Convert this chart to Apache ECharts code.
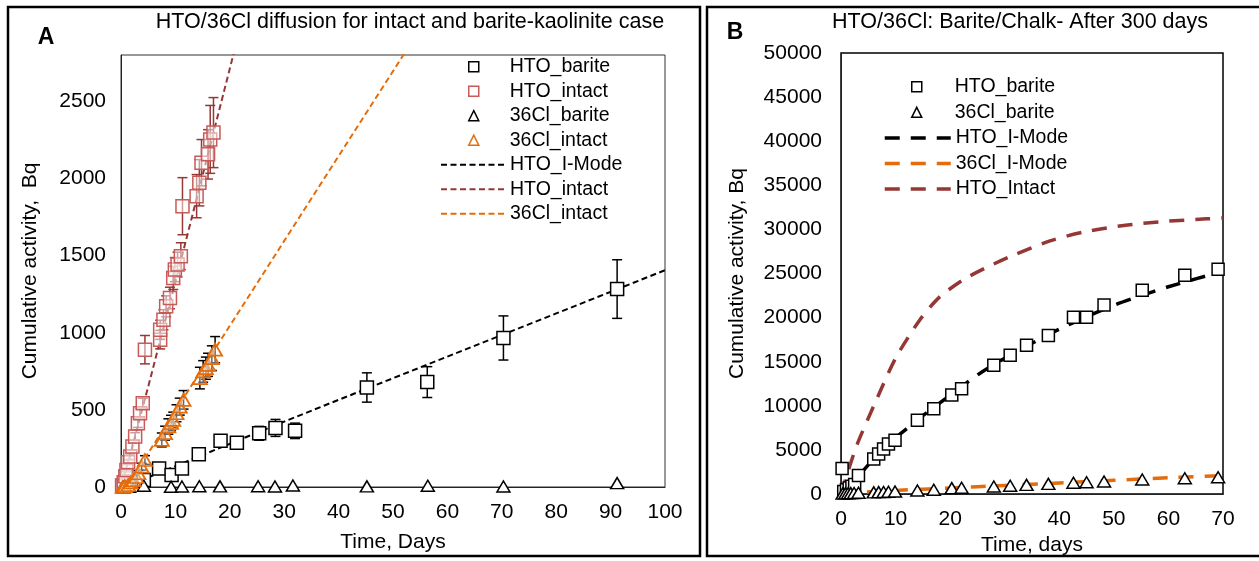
<!DOCTYPE html>
<html><head><meta charset="utf-8">
<script src="https://cdn.jsdelivr.net/npm/echarts@6/dist/echarts.min.js"></script>
<style>html,body{margin:0;padding:0;background:#fff}#c{width:1259px;height:561px}</style>
</head><body><div id="c"></div>
<script>
// ---------- Panel A data ----------
const aHtoBariteX = [0.5, 4.2, 7.0, 9.3, 11.2, 14.3, 18.3, 21.3, 25.4, 28.4, 32.0, 45.2, 56.3, 70.3, 91.2];
const aHtoBariteY = [5, 45, 120, 78, 120, 213, 300, 287, 348, 383, 364, 645, 680, 966, 1283];
const aHtoBariteErr = [3, 10, 15, 12, 15, 20, 25, 25, 45, 55, 50, 95, 100, 143, 190];

const aHtoIntactX = [0.2, 0.5, 0.8, 1.0, 1.3, 1.7, 2.1, 2.6, 3.1, 3.5, 4.0, 4.4, 7.2, 7.2, 7.8, 8.3, 9.0, 9.6, 9.9, 10.4, 11.0, 11.3, 13.9, 14.4, 14.8, 16.0, 16.4, 17.0];
const aHtoIntactY = [10, 30, 70, 110, 160, 197, 262, 327, 414, 478, 543, 890, 955, 1019, 1084, 1171, 1225, 1355, 1409, 1442, 1496, 1820, 1885, 1972, 2102, 2156, 2253, 2297];
const aHtoIntactErr = [5, 8, 10, 12, 15, 18, 22, 25, 28, 30, 32, 92, 60, 62, 65, 68, 70, 75, 78, 80, 87, 185, 140, 150, 150, 160, 220, 227];

const aClIntactX = [0.3, 0.7, 1.3, 1.8, 2.3, 2.8, 3.2, 3.8, 4.4, 7.5, 8.1, 8.7, 9.2, 9.6, 10.2, 10.8, 11.5, 14.5, 15.1, 15.6, 16.0, 16.7, 17.3];
const aClIntactY = [0, 5, 13, 30, 45, 65, 89, 132, 175, 305, 349, 392, 415, 435, 478, 521, 565, 706, 749, 770, 792, 835, 890];
const aClIntactErr = [3, 5, 8, 10, 12, 15, 18, 22, 28, 45, 45, 50, 50, 50, 55, 55, 60, 70, 70, 72, 75, 80, 85];

const aClBariteX = [0.5, 1.5, 4.2, 9.2, 11.2, 14.4, 18.2, 25.2, 28.3, 31.6, 45.2, 56.4, 70.3, 91.2];
const aClBariteY = [0, 2, 8, 2, 3, 5, 4, 5, 3, 10, 4, 8, 3, 25];

const aHtoModelX = [0, 2, 5, 10, 20, 30, 40, 50, 60, 70, 80, 90, 100];
const aHtoModelY = [0, 20, 62, 135, 280, 424, 565, 705, 845, 985, 1125, 1265, 1405];
const aHtoIntactLineX = [0, 2, 5, 10, 15, 21];
const aHtoIntactLineY = [0, 250, 650, 1330, 2020, 2850];
const aClIntactLineX = [0, 1, 5, 10, 20, 30, 40, 53];
const aClIntactLineY = [0, 10, 220, 495, 1045, 1595, 2145, 2860];

const aXTicks = {min: 0, max: 100, interval: 10};
const aYTicks = {min: 0, max: 2800, interval: 500};

// ---------- Panel B data ----------
const bHtoBariteX = [0.2, 0.5, 1.0, 1.5, 2.0, 2.5, 3.2, 6.0, 6.9, 7.8, 8.7, 9.9, 14.0, 17.0, 20.3, 22.1, 28.0, 31.0, 34.0, 38.0, 42.6, 45.0, 48.2, 55.2, 63.0, 69.1];
const bHtoBariteY = [2900, 300, 500, 700, 900, 1100, 2100, 3975, 4540, 5100, 5665, 6115, 8370, 9685, 11230, 11940, 14600, 15730, 16860, 17980, 20045, 20045, 21430, 23120, 24810, 25486];
const bClBariteX = [0.3, 0.8, 1.3, 1.8, 2.4, 3.2, 6.0, 6.9, 7.8, 8.7, 9.9, 14.0, 17.0, 20.3, 22.1, 28.0, 31.0, 34.0, 38.0, 42.6, 45.0, 48.2, 55.2, 63.0, 69.1];
const bClBariteY = [50, 80, 100, 110, 130, 150, 200, 220, 240, 260, 300, 415, 490, 675, 713, 865, 940, 1050, 1160, 1280, 1350, 1430, 1650, 1800, 1914];
const bHtoModelX = [0, 2, 4, 6, 8, 10, 12, 15, 20, 25, 30, 35, 40, 45, 50, 55, 60, 65, 70];
const bHtoModelY = [0, 1200, 2600, 4000, 5300, 6400, 7400, 8900, 11200, 13500, 15400, 17100, 18700, 20100, 21400, 22500, 23500, 24400, 25250];
const bClModelX = [0, 3, 6, 10, 15, 20, 25, 30, 40, 50, 60, 70];
const bClModelY = [0, 150, 290, 420, 560, 700, 840, 980, 1270, 1560, 1850, 2100];
const bHtoIntactX = [0, 1.5, 3, 6, 10, 14.5, 18, 22.4, 26.7, 31.3, 38.3, 44.4, 51.8, 59.1, 67, 70];
const bHtoIntactY = [0, 3000, 5700, 10000, 15400, 19800, 22300, 24300, 25700, 27000, 28700, 29700, 30450, 30900, 31200, 31300];

const bXTicks = {min: 0, max: 70, interval: 10};
const bYTicks = {min: 0, max: 50000, interval: 5000};

// ---------- helpers ----------
const F = '"Liberation Sans", Arial, sans-serif';
const pairs = (xs, ys) => xs.map((x, i) => [x, ys[i]]);
const errs = (xs, ys, es) => xs.map((x, i) => [x, ys[i] - es[i], ys[i] + es[i]]);
const plain = v => String(v);

function errSeries(name, data, color, gi) {
  return {
    type: 'custom', name, xAxisIndex: gi, yAxisIndex: gi, data, z: 1, silent: true, clip: true,
    encode: {x: 0, y: [1, 2]},
    renderItem(params, api) {
      const x = api.value(0), lo = api.value(1), hi = api.value(2);
      const p1 = api.coord([x, hi]), p2 = api.coord([x, lo]);
      const w = 5, st = {stroke: color, lineWidth: 1.5};
      return {type: 'group', children: [
        {type: 'line', shape: {x1: p1[0], y1: p1[1], x2: p2[0], y2: p2[1]}, style: st},
        {type: 'line', shape: {x1: p1[0] - w, y1: p1[1], x2: p1[0] + w, y2: p1[1]}, style: st},
        {type: 'line', shape: {x1: p2[0] - w, y1: p2[1], x2: p2[0] + w, y2: p2[1]}, style: st}
      ]};
    }
  };
}
function scatter(name, data, gi, symbol, size, fill, border, bw) {
  return {type: 'scatter', name, xAxisIndex: gi, yAxisIndex: gi, data, symbol, symbolSize: size, z: 3,
    symbolKeepAspect: true,
    itemStyle: {color: fill, borderColor: border, borderWidth: bw, opacity: 1}, silent: true};
}
function line(name, data, gi, color, width, dash, smooth) {
  return {type: 'line', name, xAxisIndex: gi, yAxisIndex: gi, data, symbol: 'none', showSymbol: false, z: 2,
    smooth: smooth ? 0.25 : false, lineStyle: {color, width, type: dash}, itemStyle: {color}, silent: true};
}
function xAxis(gi, t, name, nameGap) {
  return {gridIndex: gi, type: 'value', min: t.min, max: t.max, interval: t.interval,
    axisLine: {show: true, onZero: false, lineStyle: {color: '#222', width: 1}},
    axisTick: {show: false}, splitLine: {show: false},
    axisLabel: {fontFamily: F, fontSize: 21, color: '#000', margin: 15, formatter: plain},
    name, nameLocation: 'middle', nameGap, nameTextStyle: {fontFamily: F, fontSize: 21, color: '#000'}};
}
function yAxis(gi, t, name, nameGap, margin) {
  return {gridIndex: gi, type: 'value', min: t.min, max: t.max, interval: t.interval,
    axisLine: {show: true, onZero: false, lineStyle: {color: '#222', width: 1}},
    axisTick: {show: false}, splitLine: {show: false},
    axisLabel: {fontFamily: F, fontSize: 21, color: '#000', margin, formatter: plain, showMaxLabel: t.max % t.interval === 0},
    name, nameLocation: 'middle', nameGap, nameTextStyle: {fontFamily: F, fontSize: 21, color: '#000'}};
}
const hid = {color: 'rgba(0,0,0,0)', borderWidth: 0, opacity: 0};
const RED = '#C85A57', DRED = '#953735', ORG = '#E46C0A';
const legText = pad => ({fontFamily: F, fontSize: 19.5, color: '#000', lineHeight: 20, padding: [0, 0, 0, pad]});
function markerLegend(left, top, gap, pad, names) {
  return {left, top, orient: 'vertical', itemWidth: 10, itemHeight: 10, itemGap: gap, padding: 0, selectedMode: false,
    symbolKeepAspect: true, textStyle: legText(pad), itemStyle: {borderWidth: 1.5}, data: names};
}
function lineLegend(left, top, gap, width, w, names) {
  return {left, top, orient: 'vertical', itemWidth: width, itemHeight: 10, itemGap: gap, padding: 0, selectedMode: false,
    textStyle: legText(0), lineStyle: {width: w}, data: names.map(n => ({name: n, itemStyle: hid}))};
}

const option = {
  animation: false,
  backgroundColor: '#fff',
  grid: [
    {left: 121, top: 55, width: 544, height: 432, show: true, borderColor: '#333', borderWidth: 1, backgroundColor: 'transparent'},
    {left: 841, top: 53, width: 382, height: 444, show: true, borderColor: '#000', borderWidth: 1.5, backgroundColor: 'transparent'}
  ],
  xAxis: [xAxis(0, aXTicks, 'Time, Days', 45), xAxis(1, bXTicks, 'Time, days', 35)],
  yAxis: [yAxis(0, aYTicks, 'Cumulative activity,  Bq', 80, 15), yAxis(1, bYTicks, 'Cumulative activity, Bq', 93, 19)],
  legend: [
    markerLegend(468, 56.7, 4.5, 26, ['HTO_barite', 'HTO_intact', '36Cl_barite', '36Cl_intact']),
    lineLegend(440, 56.7 + 4 * 24.5, 4.5, 64, 2, ['HTO_I-Mode', 'HTO_intact ', '36Cl_intact ']),
    markerLegend(911, 76.7, 5.6, 28, ['HTO_barite  ', '36Cl_barite  ']),
    lineLegend(883, 76.7 + 2 * 25.6, 5.6, 66, 3.5, ['HTO_I-Mode  ', '36Cl_I-Mode', 'HTO_Intact'])
  ],
  series: [
    // Panel A
    errSeries('eA1', errs(aHtoBariteX, aHtoBariteY, aHtoBariteErr), '#000', 0),
    errSeries('eA2', errs(aHtoIntactX, aHtoIntactY, aHtoIntactErr), DRED, 0),
    errSeries('eA3', errs(aClIntactX, aClIntactY, aClIntactErr), '#000', 0),
    line('HTO_I-Mode', pairs(aHtoModelX, aHtoModelY), 0, '#000', 2, [6, 3.5], false),
    line('HTO_intact ', pairs(aHtoIntactLineX, aHtoIntactLineY), 0, DRED, 2, [6, 3.5], false),
    line('36Cl_intact ', pairs(aClIntactLineX, aClIntactLineY), 0, ORG, 2, [6, 3.5], false),
    scatter('HTO_barite', pairs(aHtoBariteX, aHtoBariteY), 0, 'rect', [13, 13], '#fff', '#000', 1.5),
    scatter('HTO_intact', pairs(aHtoIntactX, aHtoIntactY), 0, 'rect', [13, 13], 'rgba(255,255,255,0.5)', RED, 1.5),
    scatter('36Cl_barite', pairs(aClBariteX, aClBariteY), 0, 'triangle', [13, 11], '#fff', '#000', 1.5),
    scatter('36Cl_intact', pairs(aClIntactX, aClIntactY), 0, 'triangle', [14, 12], 'rgba(255,255,255,0.4)', ORG, 1.8),
    // Panel B
    line('HTO_I-Mode  ', pairs(bHtoModelX, bHtoModelY), 1, '#000', 3.5, [15, 11], true),
    line('36Cl_I-Mode', pairs(bClModelX, bClModelY), 1, ORG, 3.5, [15, 11], true),
    line('HTO_Intact', pairs(bHtoIntactX, bHtoIntactY), 1, DRED, 3.5, [15, 11], true),
    scatter('HTO_barite  ', pairs(bHtoBariteX, bHtoBariteY), 1, 'rect', [12, 12], '#fff', '#000', 1.5),
    scatter('36Cl_barite  ', pairs(bClBariteX, bClBariteY), 1, 'triangle', [13, 11], '#fff', '#000', 1.5)
  ],
  graphic: [
    {type: 'rect', shape: {x: 8, y: 7, width: 692, height: 549}, style: {fill: 'none', stroke: '#000', lineWidth: 2.5}, silent: true},
    {type: 'rect', shape: {x: 707, y: 7, width: 570, height: 549}, style: {fill: 'none', stroke: '#000', lineWidth: 2.5}, silent: true},
    {type: 'text', x: 410, y: 22, style: {text: 'HTO/36Cl diffusion for intact and barite-kaolinite case', font: '21.5px ' + F, fill: '#000', align: 'center', verticalAlign: 'middle'}, silent: true},
    {type: 'text', x: 1020, y: 22, style: {text: 'HTO/36Cl: Barite/Chalk- After 300 days', font: '21.5px ' + F, fill: '#000', align: 'center', verticalAlign: 'middle'}, silent: true},
    {type: 'text', x: 46, y: 38, style: {text: 'A', font: 'bold 23px ' + F, fill: '#000', align: 'center', verticalAlign: 'middle'}, silent: true},
    {type: 'text', x: 735, y: 33, style: {text: 'B', font: 'bold 23px ' + F, fill: '#000', align: 'center', verticalAlign: 'middle'}, silent: true}
  ]
};
const chart = echarts.init(document.getElementById('c'), null, {renderer: 'canvas'});
chart.setOption(option);
</script></body></html>
